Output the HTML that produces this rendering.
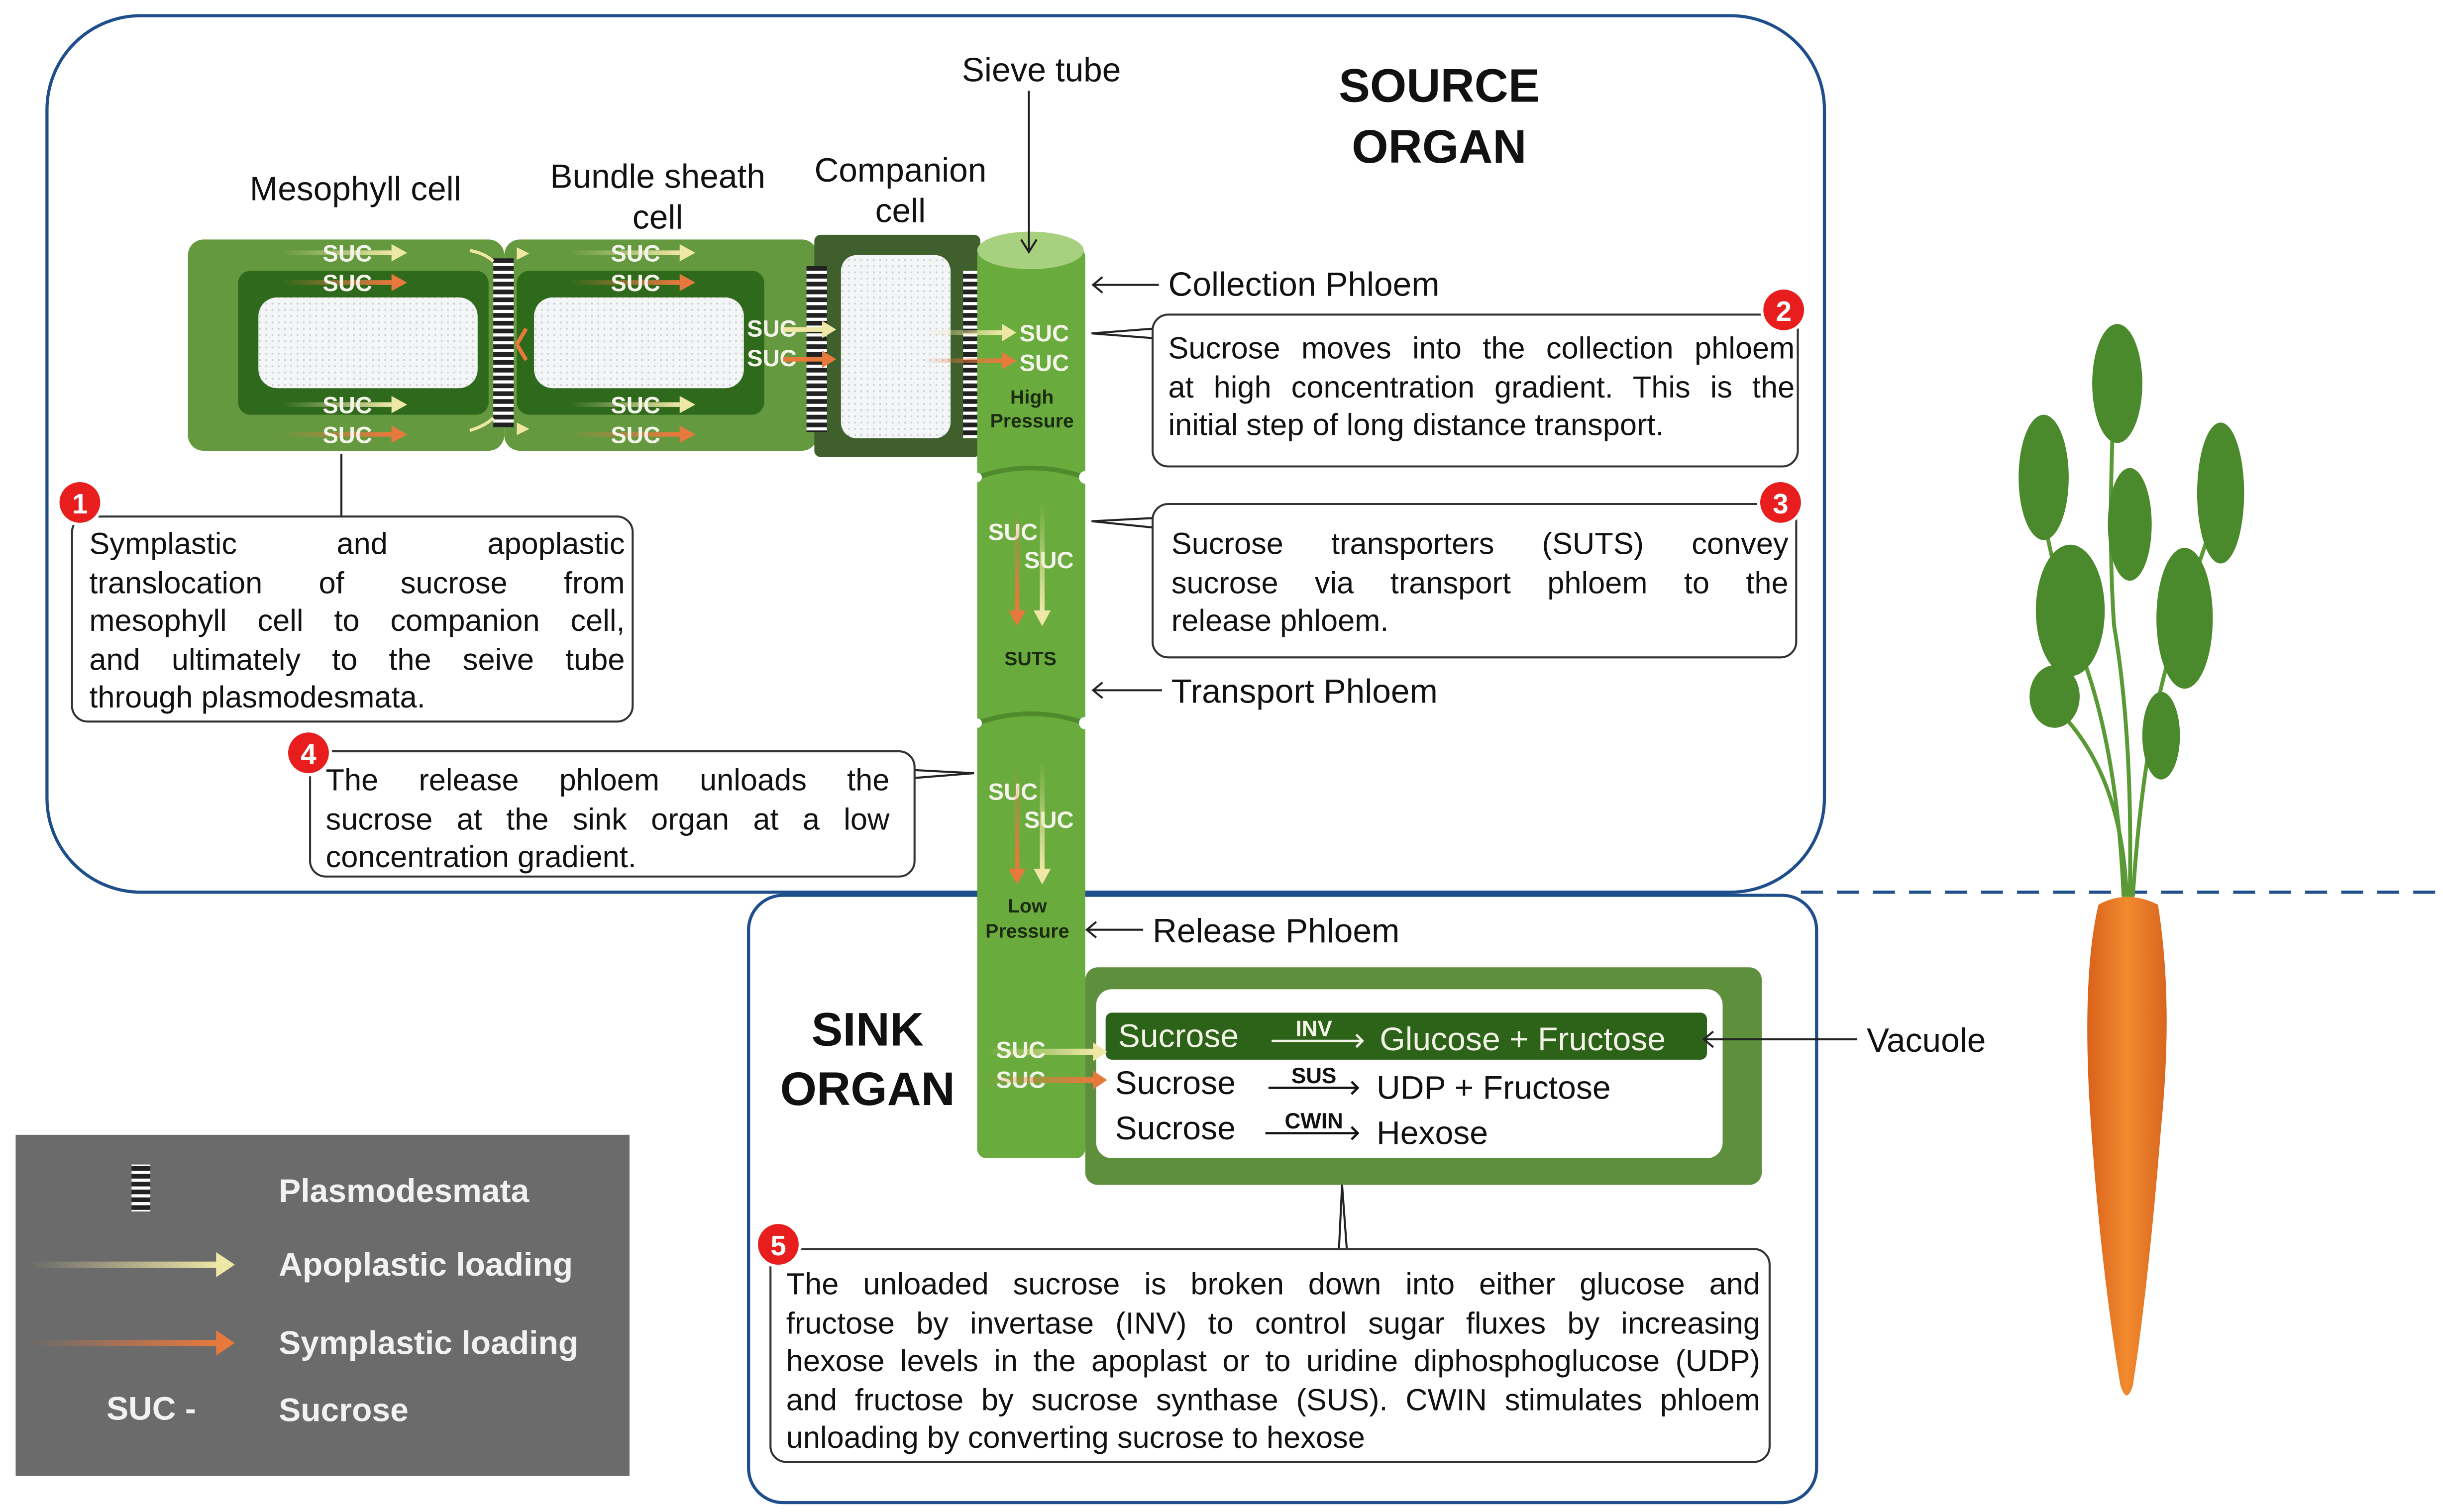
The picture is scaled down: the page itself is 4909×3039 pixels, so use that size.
<!DOCTYPE html>
<html><head><meta charset="utf-8"><style>
html,body{margin:0;padding:0;background:#fff;}
#wrap{position:absolute;left:0;top:0;width:1560px;height:966px;transform:scale(3.14679,3.14596);transform-origin:0 0;overflow:hidden;font-family:"Liberation Sans",sans-serif;}
svg{position:absolute;left:0;top:0;}
.p{position:absolute;font-size:19.5px;line-height:24.5px;color:#111;}
.p span{display:block;text-align:justify;text-align-last:justify;white-space:nowrap;}
.p span.l{text-align-last:left;}
</style></head><body><div id="wrap">
<svg width="1560" height="966" viewBox="0 0 1560 966" font-family="Liberation Sans, sans-serif">
<defs>
<pattern id="dots" width="4" height="4" patternUnits="userSpaceOnUse"><rect width="4" height="4" fill="#f3f5f6"/><circle cx="2" cy="2" r="0.6" fill="#c9cfd3"/></pattern>
<pattern id="pd" width="12" height="5" patternUnits="userSpaceOnUse"><rect width="12" height="5" fill="#fff"/><rect width="12" height="3" fill="#222"/></pattern>
<linearGradient id="gy" x1="0" x2="1"><stop offset="0" stop-color="#e9e3a0" stop-opacity="0"/><stop offset="1" stop-color="#efe7a6"/></linearGradient>
<linearGradient id="go" x1="0" x2="1"><stop offset="0" stop-color="#e8793d" stop-opacity="0"/><stop offset="1" stop-color="#e8793d"/></linearGradient>
<linearGradient id="gyv" x1="0" y1="0" x2="0" y2="1"><stop offset="0" stop-color="#efe7a6" stop-opacity="0"/><stop offset="1" stop-color="#efe7a6"/></linearGradient>
<linearGradient id="gov" x1="0" y1="0" x2="0" y2="1"><stop offset="0" stop-color="#e8793d" stop-opacity="0"/><stop offset="1" stop-color="#e8793d"/></linearGradient>
<linearGradient id="carrot" x1="0" x2="1"><stop offset="0" stop-color="#d9621a"/><stop offset="0.5" stop-color="#f28a2e"/><stop offset="1" stop-color="#d8661f"/></linearGradient>
</defs>
<rect x="30" y="10" width="1135" height="560" rx="60" fill="none" stroke="#1f4e8c" stroke-width="2"/>
<rect x="478" y="572" width="682" height="388" rx="22" fill="none" stroke="#1f4e8c" stroke-width="2"/>
<line x1="1150" y1="570" x2="1560" y2="570" stroke="#1f4e8c" stroke-width="2" stroke-dasharray="14,9"/>
<rect x="120" y="153" width="202" height="135" rx="10" fill="#64993f"/>
<rect x="152" y="173" width="160" height="92" rx="8" fill="#2f6a1c"/>
<rect x="165" y="190" width="140" height="58" rx="12" fill="url(#dots)"/>
<rect x="322" y="153" width="200" height="135" rx="10" fill="#64993f"/>
<rect x="330" y="173" width="158" height="92" rx="8" fill="#2f6a1c"/>
<rect x="341" y="190" width="134" height="58" rx="12" fill="url(#dots)"/>
<rect x="520" y="150" width="106" height="142" rx="4" fill="#3f5f2c"/>
<rect x="537" y="163" width="70" height="117" rx="10" fill="url(#dots)"/>
<rect x="315" y="165" width="13" height="108" fill="url(#pd)"/>
<rect x="515" y="170" width="13" height="106" fill="url(#pd)"/>
<rect x="615" y="173" width="13" height="107" fill="url(#pd)"/>
<rect x="624" y="158" width="69" height="582" rx="6" fill="#6aab3e"/>
<ellipse cx="658" cy="160" rx="34" ry="12" fill="#a7d07f"/>
<path d="M624 305 Q658 293 693 305" stroke="#4f8a2d" stroke-width="3" fill="none"/>
<path d="M624 462 Q658 450 693 462" stroke="#4f8a2d" stroke-width="3" fill="none"/>
<circle cx="693" cy="305" r="4" fill="#fff"/><circle cx="624" cy="305" r="3" fill="#fff"/>
<circle cx="693" cy="462" r="4" fill="#fff"/><circle cx="624" cy="462" r="3" fill="#fff"/>
<rect x="693" y="618" width="432" height="139" rx="8" fill="#5e8f3c"/>
<rect x="700" y="632" width="400" height="108" rx="10" fill="#fff"/>
<rect x="706" y="647" width="384" height="30" rx="4" fill="#2d6318"/>
<g font-weight="bold" font-size="15" fill="#f4f4ea">
<g id="a1">
<rect x="180" y="160" width="70" height="3" fill="url(#gy)"/><path d="M250 156l10 5.5-10 5.5z" fill="#efe7a6"/>
<text x="206" y="167">SUC</text>
<rect x="180" y="179" width="70" height="3" fill="url(#go)"/><path d="M250 175l10 5.5-10 5.5z" fill="#e8793d"/>
<text x="206" y="186">SUC</text>
<rect x="180" y="257" width="70" height="3" fill="url(#gy)"/><path d="M250 253l10 5.5-10 5.5z" fill="#efe7a6"/>
<text x="206" y="264">SUC</text>
<rect x="180" y="276" width="70" height="3" fill="url(#go)"/><path d="M250 272l10 5.5-10 5.5z" fill="#e8793d"/>
<text x="206" y="283">SUC</text>
</g>
<use href="#a1" x="184"/>
<text x="477" y="215">SUC</text><text x="477" y="234">SUC</text>
<rect x="500" y="209" width="25" height="3" fill="#efe7a6"/><path d="M525 205l9 5.5-9 5.5z" fill="#efe7a6"/>
<rect x="500" y="228" width="25" height="3" fill="#e8793d"/><path d="M525 224l9 5.5-9 5.5z" fill="#e8793d"/>
<rect x="590" y="211" width="50" height="3" fill="url(#gy)"/><path d="M640 207l9 5.5-9 5.5z" fill="#efe7a6"/>
<rect x="590" y="229" width="50" height="3" fill="url(#go)"/><path d="M640 225l9 5.5-9 5.5z" fill="#e8793d"/>
<text x="651" y="218">SUC</text><text x="651" y="237">SUC</text>
<path d="M300 160 Q310 162 315 167" stroke="#efe7a6" stroke-width="2" fill="none"/><path d="M330 158l8 4-8 4z" fill="#efe7a6"/>
<path d="M300 275 Q310 272 315 267" stroke="#efe7a6" stroke-width="2" fill="none"/><path d="M330 270l8 4-8 4z" fill="#efe7a6"/>
<path d="M330 220 l6 -10 M330 220 l6 10" stroke="#e8793d" stroke-width="2.5"/>
<text x="631" y="345">SUC</text><text x="654" y="363">SUC</text>
<text x="631" y="511">SUC</text><text x="654" y="529">SUC</text>
<text x="636" y="676">SUC</text><text x="636" y="695">SUC</text>
</g>
<rect x="648" y="325" width="3" height="65" fill="url(#gov)"/><path d="M644 390l5.5 10 5.5-10z" fill="#e8793d"/>
<rect x="664" y="322" width="3" height="68" fill="url(#gyv)"/><path d="M660 390l5.5 10 5.5-10z" fill="#efe7a6"/>
<rect x="648" y="490" width="3" height="65" fill="url(#gov)"/><path d="M644 555l5.5 10 5.5-10z" fill="#e8793d"/>
<rect x="664" y="487" width="3" height="68" fill="url(#gyv)"/><path d="M660 555l5.5 10 5.5-10z" fill="#efe7a6"/>
<rect x="630" y="670" width="68" height="4" fill="url(#gy)"/><path d="M698 666l9 6-9 6z" fill="#efe7a6"/>
<rect x="630" y="688" width="68" height="4" fill="url(#go)"/><path d="M698 684l9 6-9 6z" fill="#e8793d"/>
<g font-weight="bold" font-size="12.5" fill="#1c2a12" text-anchor="middle">
<text x="659" y="258">High</text><text x="659" y="273">Pressure</text>
<text x="658" y="425">SUTS</text>
<text x="656" y="583">Low</text><text x="656" y="599">Pressure</text>
</g>
<g font-size="21.5" fill="#111">
<text x="665" y="52" text-anchor="middle">Sieve tube</text>
<text x="227" y="128" text-anchor="middle">Mesophyll cell</text>
<text x="420" y="120" text-anchor="middle">Bundle sheath</text><text x="420" y="146" text-anchor="middle">cell</text>
<text x="575" y="116" text-anchor="middle">Companion</text><text x="575" y="142" text-anchor="middle">cell</text>
<text x="746" y="189">Collection Phloem</text>
<text x="748" y="449">Transport Phloem</text>
<text x="736" y="602">Release Phloem</text>
<text x="1192" y="672">Vacuole</text>
</g>
<g font-size="30" font-weight="bold" fill="#111" text-anchor="middle">
<text x="919" y="65">SOURCE</text><text x="919" y="104">ORGAN</text>
<text x="554" y="668">SINK</text><text x="554" y="706">ORGAN</text>
</g>
<g stroke="#222" stroke-width="1.3" fill="none">
<path d="M657 58V160 M652 153l5 8 5-8"/>
<path d="M740 182H698 M704 177l-6 5 6 5"/>
<path d="M742 441H698 M704 436l-6 5 6 5"/>
<path d="M730 594H694 M700 589l-6 5 6 5"/>
<path d="M1186 664H1088 M1094 659l-6 5 6 5"/>
<path d="M218 290V330"/>
<path d="M697 213L736 210 M697 213L736 216"/>
<path d="M697 333L736 331 M697 333L736 337"/>
<path d="M584 492L622 494 M584 497L622 494"/>
<path d="M857 757L855 798 M857 757L860 798"/>
</g>
<g fill="#fff" stroke="#333" stroke-width="1.3">
<rect x="46" y="330" width="358" height="131" rx="10"/>
<rect x="736" y="201" width="412" height="97" rx="10"/>
<rect x="736" y="322" width="411" height="98" rx="10"/>
<rect x="198" y="480" width="386" height="80" rx="10"/>
<rect x="492" y="798" width="638" height="136" rx="10"/>
</g>
<g fill="#e81e1e" stroke="#fff" stroke-width="2">
<circle cx="51" cy="321" r="14"/><circle cx="1139" cy="198" r="14"/><circle cx="1137" cy="321" r="14"/><circle cx="197" cy="481" r="14"/><circle cx="497" cy="795" r="14"/>
</g>
<g fill="#fff" font-weight="bold" font-size="18" text-anchor="middle">
<text x="51" y="328">1</text><text x="1139" y="205">2</text><text x="1137" y="328">3</text><text x="197" y="488">4</text><text x="497" y="802">5</text>
</g>
<g font-size="21" fill="#111">
<text x="714" y="669" fill="#f2f2e6">Sucrose</text><text x="881" y="671" fill="#f2f2e6">Glucose + Fructose</text>
<text x="712" y="699">Sucrose</text><text x="879" y="702">UDP + Fructose</text>
<text x="712" y="728">Sucrose</text><text x="879" y="731">Hexose</text>
</g>
<g font-size="14" font-weight="bold" text-anchor="middle">
<text x="839" y="662" fill="#f2f2e6">INV</text><text x="839" y="692" fill="#111">SUS</text><text x="839" y="721" fill="#111">CWIN</text>
</g>
<g stroke-width="1.5" fill="none">
<path d="M812 665H870 M866 661l4 4-4 4" stroke="#f2f2e6"/>
<path d="M810 695H867 M863 691l4 4-4 4" stroke="#111"/>
<path d="M808 724H867 M863 720l4 4-4 4" stroke="#111"/>
</g>
<rect x="10" y="725" width="392" height="218" fill="#6b6b6b"/>
<rect x="84" y="744" width="12" height="30" fill="url(#pd)"/>
<rect x="20" y="806" width="120" height="4" fill="url(#gy)"/><path d="M138 800l12 8-12 8z" fill="#efe7a6"/>
<rect x="20" y="856" width="120" height="4" fill="url(#go)"/><path d="M138 850l12 8-12 8z" fill="#e8793d"/>
<g fill="#f2f2f2" font-weight="bold" font-size="21">
<text x="178" y="768">Plasmodesmata</text>
<text x="178" y="815">Apoplastic loading</text>
<text x="178" y="865">Symplastic loading</text>
<text x="68" y="907">SUC -</text>
<text x="178" y="908">Sucrose</text>
</g>
<!-- carrot leaves -->
<g stroke="#5a9a36" stroke-width="2.5" fill="none" stroke-linecap="round">
<path d="M1356 572 Q1352 480 1330 420 Q1310 370 1300 300"/>
<path d="M1360 572 Q1362 470 1350 400 Q1345 330 1352 215"/>
<path d="M1362 572 Q1368 480 1385 420 Q1400 370 1425 300"/>
<path d="M1358 572 Q1355 500 1320 460"/>
</g>
<g fill="#4a8a2c">
<ellipse cx="1305" cy="305" rx="16" ry="40"/>
<ellipse cx="1352" cy="245" rx="16" ry="38"/>
<ellipse cx="1418" cy="315" rx="15" ry="45"/>
<ellipse cx="1322" cy="390" rx="22" ry="42"/>
<ellipse cx="1395" cy="395" rx="18" ry="45"/>
<ellipse cx="1360" cy="335" rx="14" ry="36"/>
<ellipse cx="1312" cy="445" rx="16" ry="20"/>
<ellipse cx="1380" cy="470" rx="12" ry="28"/>
</g>
<path d="M1340 578 Q1358 568 1378 578 Q1388 640 1380 720 Q1372 820 1362 885 Q1358 898 1354 885 Q1340 800 1334 700 Q1330 620 1340 578Z" fill="url(#carrot)"/>
</svg>
<div class="p" style="left:57px;top:336px;width:342px;"><span>Symplastic and apoplastic</span><span>translocation of sucrose from</span><span>mesophyll cell to companion cell,</span><span>and ultimately to the seive tube</span><span class="l">through plasmodesmata.</span></div>
<div class="p" style="left:746px;top:211px;width:400px;"><span>Sucrose moves into the collection phloem</span><span>at high concentration gradient. This is the</span><span class="l">initial step of long distance transport.</span></div>
<div class="p" style="left:748px;top:336px;width:394px;"><span>Sucrose transporters (SUTS) convey</span><span>sucrose via transport phloem to the</span><span class="l">release phloem.</span></div>
<div class="p" style="left:208px;top:487px;width:360px;"><span>The release phloem unloads the</span><span>sucrose at the sink organ at a low</span><span class="l">concentration gradient.</span></div>
<div class="p" style="left:502px;top:809px;width:622px;"><span>The unloaded sucrose is broken down into either glucose and</span><span>fructose by invertase (INV) to control sugar fluxes by increasing</span><span>hexose levels in the apoplast or to uridine diphosphoglucose (UDP)</span><span>and fructose by sucrose synthase (SUS). CWIN stimulates phloem</span><span class="l">unloading by converting sucrose to hexose</span></div>
</div></body></html>
